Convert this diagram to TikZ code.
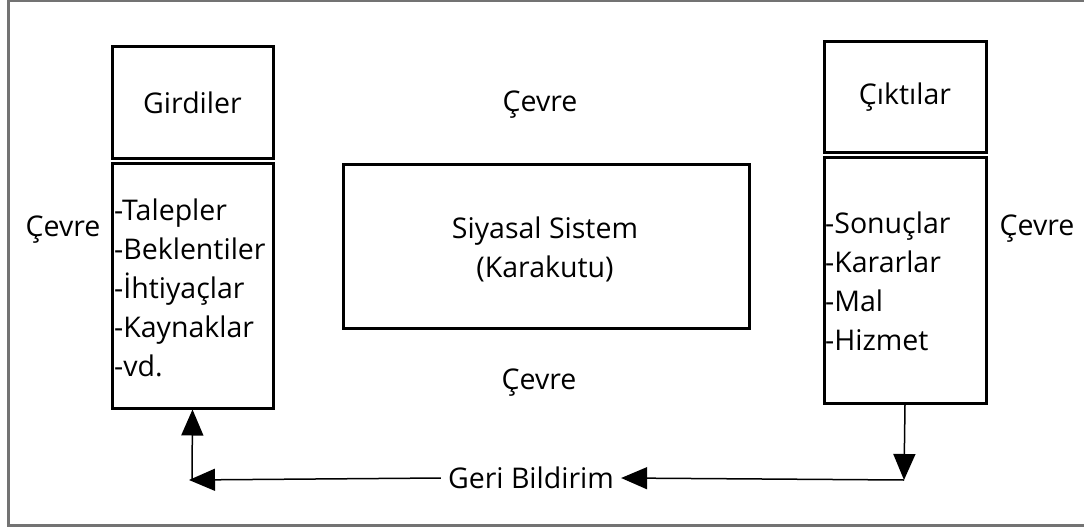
\documentclass[tikz,border=0pt]{standalone}
\usepackage{fontspec}
\setmainfont{Open Sans}
\usetikzlibrary{arrows.meta}
\begin{document}
\begin{tikzpicture}[x=1pt,y=-1pt,
  box/.style={draw=black,line width=3pt,inner sep=0pt},
  lbl/.style={font=\fontsize{28.5}{39}\selectfont,inner sep=0pt},
  conn/.style={draw=black,line width=1.5pt},
  tip/.style={-{Triangle[length=26pt,width=22pt]}}]
\useasboundingbox (0,0) rectangle (1084,527);
\begin{scope}
\clip (0,0) rectangle (1084,527);
\draw[gray!90!black,line width=2.5pt] (8.7,1) rectangle (1100,525.5);
\end{scope}
% left boxes
\node[box,minimum width=161pt,minimum height=111pt] (gir) at (192.5,102.5) {};
\node[lbl] at (gir.center) {Girdiler};
\node[box,minimum width=161pt,minimum height=245pt] (girlist) at (192.5,285.5) {};
\node[lbl,align=left,anchor=west] (girtext) at (114,288) {-Talepler\\-Beklentiler\\-İhtiyaçlar\\-Kaynaklar\\-vd.};
\node[lbl] (cevL) at (63,230) {Çevre};
% center
\node[box,minimum width=406pt,minimum height=164pt] (sys) at (546,246) {};
\node[lbl,align=center] (systext) at (545,249) {Siyasal Sistem\\(Karakutu)};
\node[lbl] (cevT) at (540,105) {Çevre};
\node[lbl] (cevB) at (539,383) {Çevre};
% right boxes
\node[box,minimum width=162pt,minimum height=110pt] (cik) at (905,97) {};
\node[lbl] at (cik.center) {Çıktılar};
\node[box,minimum width=162pt,minimum height=246pt] (ciklist) at (905,280) {};
\node[lbl,align=left,anchor=west] (ciktext) at (825,281) {-Sonuçlar\\-Kararlar\\-Mal\\-Hizmet};
\node[lbl] (cevR) at (1037,229) {Çevre};
% feedback
\node[lbl,inner xsep=7pt] (geri) at (531,478) {Geri Bildirim};
\coordinate (cr) at (904,480);
\coordinate (cl) at (189,480);
\draw[conn,tip] (ciklist.south) -- (cr);
\draw[conn,tip] (cr) -- (geri.east);
\draw[conn,tip] (geri.west) -- (cl);
\draw[conn,tip] (192,480) -- (girlist.south);
\end{tikzpicture}
\end{document}
